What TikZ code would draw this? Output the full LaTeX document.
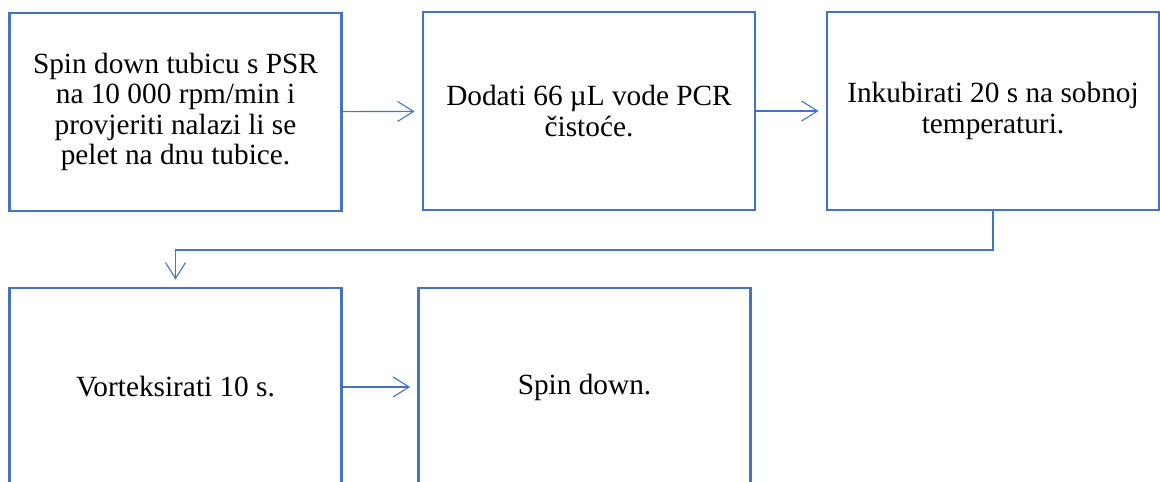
\documentclass[tikz,border=0pt]{standalone}
\usepackage{fontspec}
\setmainfont{Liberation Serif}
\definecolor{stepblue}{RGB}{68, 114, 196}
\usepackage{tikz}
\usetikzlibrary{arrows.meta, positioning}

\begin{document}
\begin{tikzpicture}[
  x=1pt, y=1pt,
  stepbox/.style={draw=stepblue, line width=2.8pt, fill=white, minimum width=332pt, minimum height=198pt, align=center, font=\fontsize{29.3}{30.3}\selectfont},
  flow/.style={draw=stepblue, line width=1.1pt, -{Straight Barb[length=16pt, width=20pt]}, shorten >=7pt}
]
  \useasboundingbox (0,0) rectangle (1160,482);
  \node[stepbox] (s1) at (175.5, 370) {Spin down tubicu s PSR\\na 10 000 rpm/min i\\provjeriti nalazi li se\\pelet na dnu tubice.};
  \node[stepbox] (s2) at (589, 371) {Dodati 66 µL vode PCR\\čistoće.};
  \node[stepbox] (s3) at (993, 371) {Inkubirati 20 s na sobnoj\\temperaturi.};
  \node[stepbox] (s4) at (175.5, 95) {Vorteksirati 10 s.};
  \node[stepbox] (s5) at (584.5, 95) {Spin down.};
  \coordinate (turn) at (175.5, 232);

  \draw[flow] (s1) -- (s2);
  \draw[flow] (s2) -- (s3);
  \draw[flow] (s3.south) |- (turn) -- (s4.north);
  \draw[flow] (s4) -- (s5);
\end{tikzpicture}
\end{document}
